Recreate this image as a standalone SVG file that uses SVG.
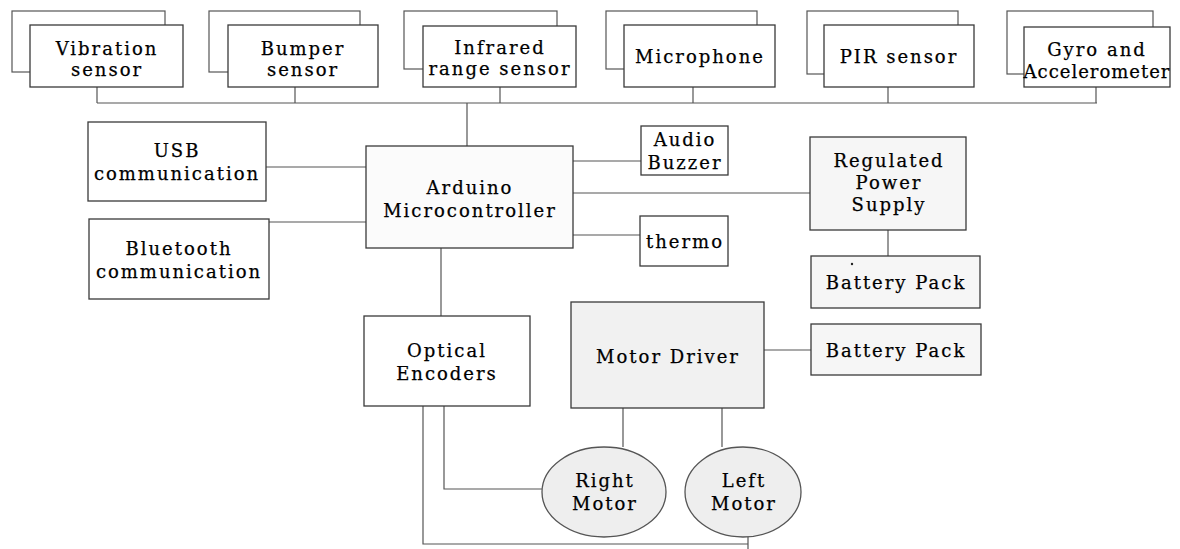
<svg xmlns="http://www.w3.org/2000/svg" width="1180" height="549" viewBox="0 0 1180 549">
<style>
.bg{fill:#ffffff}
.box{fill:#ffffff;stroke:#3a3a3a;stroke-width:1.3}
.back{fill:#ffffff;stroke:#555;stroke-width:1.2}
.gray{fill:#f1f1f1;stroke:#3a3a3a;stroke-width:1.3}
.light{fill:#f6f6f6;stroke:#3a3a3a;stroke-width:1.3}
.ell{fill:#eeeeee;stroke:#555;stroke-width:1.3}
.t{font-family:"DejaVu Serif","Liberation Serif",serif;font-size:18px;fill:#000;stroke:#000;stroke-width:0.25;text-anchor:middle;letter-spacing:2px}
.ln{fill:none;stroke:#555;stroke-width:1.2}
</style>
<rect class="bg" x="0" y="0" width="1180" height="549"/>
<g id="connectors">
<path class="ln" d="M97 103H1097M97 87V103M295 87V103M500 87V103M693 87V103M888 87V103M1096 87V103M467 103V146"/>
<path class="ln" d="M266 167H366M269 222H366"/>
<path class="ln" d="M573 161H641M573 193H810M573 235H640"/>
<path class="ln" d="M888 230V256"/>
<path class="ln" d="M441 248V316"/>
<path class="ln" d="M764 350H811"/>
<path class="ln" d="M623 408V447M722 408V447"/>
<path class="ln" d="M444 406V489H542"/>
<path class="ln" d="M423 406V544H748M748 537V549"/>
</g>
<g id="vibration">
<rect class="back" x="12" y="11" width="153" height="61"/>
<rect class="box" x="30" y="25" width="153" height="62"/>
<text class="t" x="107" y="55">Vibration</text>
<text class="t" x="107" y="76">sensor</text>
</g>
<g id="bumper">
<rect class="back" x="209" y="11" width="151" height="61"/>
<rect class="box" x="228" y="25" width="150" height="62"/>
<text class="t" x="303" y="55">Bumper</text>
<text class="t" x="303" y="76">sensor</text>
</g>
<g id="infrared">
<rect class="back" x="404" y="11" width="153" height="58"/>
<rect class="box" x="423" y="26" width="153" height="61"/>
<text class="t" x="500" y="54">Infrared</text>
<text class="t" x="500" y="75">range sensor</text>
</g>
<g id="microphone">
<rect class="back" x="606" y="11" width="151" height="58"/>
<rect class="box" x="624" y="25" width="151" height="62"/>
<text class="t" x="700" y="63">Microphone</text>
</g>
<g id="pir">
<rect class="back" x="807" y="11" width="151" height="63"/>
<rect class="box" x="824" y="25" width="150" height="62"/>
<text class="t" x="899" y="63">PIR sensor</text>
</g>
<g id="gyro">
<rect class="back" x="1007" y="11" width="146" height="63"/>
<rect class="box" x="1024" y="27" width="146" height="60"/>
<text class="t" x="1097" y="56">Gyro and</text>
<text class="t" x="1097" y="78" style="letter-spacing:1px">Accelerometer</text>
</g>
<g id="usb">
<rect class="box" x="88" y="122" width="178" height="79"/>
<text class="t" x="177" y="157">USB</text>
<text class="t" x="177" y="180">communication</text>
</g>
<g id="bluetooth">
<rect class="box" x="89" y="219" width="180" height="80"/>
<text class="t" x="179" y="255">Bluetooth</text>
<text class="t" x="179" y="278">communication</text>
</g>
<g id="arduino">
<rect class="box" x="366" y="146" width="207" height="102" style="fill:#fbfbfb"/>
<text class="t" x="470" y="194">Arduino</text>
<text class="t" x="470" y="217">Microcontroller</text>
</g>
<g id="buzzer">
<rect class="box" x="641" y="126" width="87" height="49"/>
<text class="t" x="685" y="146">Audio</text>
<text class="t" x="685" y="169">Buzzer</text>
</g>
<g id="thermo">
<rect class="box" x="640" y="216" width="88" height="50"/>
<text class="t" x="685" y="248">thermo</text>
</g>
<g id="power">
<rect class="light" x="810" y="137" width="156" height="93"/>
<text class="t" x="889" y="167">Regulated</text>
<text class="t" x="889" y="189">Power</text>
<text class="t" x="889" y="211">Supply</text>
</g>
<g id="battery1">
<rect class="light" x="811" y="256" width="169" height="52"/>
<circle cx="852" cy="264" r="1.2" fill="#222"/>
<text class="t" x="896" y="289">Battery Pack</text>
</g>
<g id="battery2">
<rect class="light" x="811" y="324" width="170" height="51"/>
<text class="t" x="896" y="357">Battery Pack</text>
</g>
<g id="motordriver">
<rect class="gray" x="571" y="302" width="193" height="106"/>
<text class="t" x="668" y="363">Motor Driver</text>
</g>
<g id="encoders">
<rect class="box" x="364" y="316" width="166" height="90"/>
<text class="t" x="447" y="357">Optical</text>
<text class="t" x="447" y="380">Encoders</text>
</g>
<g id="rightmotor">
<ellipse class="ell" cx="604" cy="492" rx="62" ry="45"/>
<text class="t" x="605" y="487">Right</text>
<text class="t" x="605" y="510">Motor</text>
</g>
<g id="leftmotor">
<ellipse class="ell" cx="743" cy="492" rx="58" ry="45"/>
<text class="t" x="744" y="487">Left</text>
<text class="t" x="744" y="510">Motor</text>
</g>
</svg>
